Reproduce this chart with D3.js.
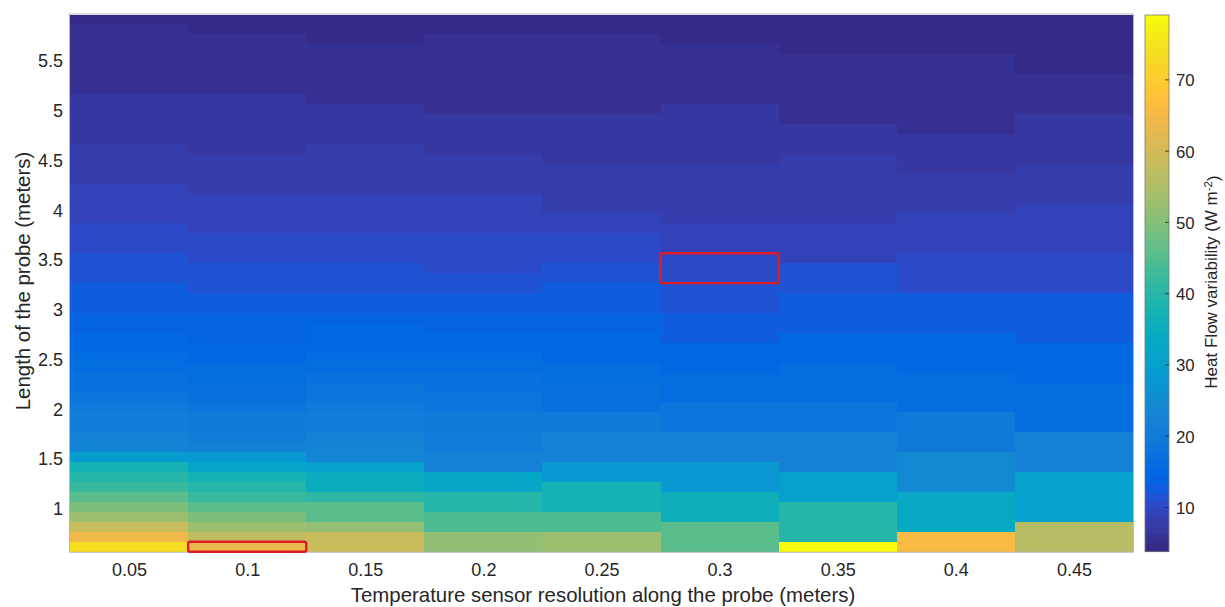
<!DOCTYPE html>
<html>
<head>
<meta charset="utf-8">
<script src="https://cdn.jsdelivr.net/npm/d3@7"></script>
<style>
  body { margin: 0; background: #fff; }
  svg { display: block; }
  text { font-family: "Liberation Sans", Arial, Helvetica, sans-serif; fill: #262626; }
</style>
</head>
<body>
<svg id="chart" width="1225" height="607"></svg>
<script>
// Sensor spacing along the probe (m) — one image column each
const resolutions = [0.05, 0.1, 0.15, 0.2, 0.25, 0.3, 0.35, 0.4, 0.45];

// Probe length (m) — one image row each
const probeLengths = [0.6, 0.7, 0.8, 0.9, 1.0, 1.1, 1.2, 1.3, 1.4, 1.5,
  1.6, 1.7, 1.8, 1.9, 2.0, 2.1, 2.2, 2.3, 2.4, 2.5,
  2.6, 2.7, 2.8, 2.9, 3.0, 3.1, 3.2, 3.3, 3.4, 3.5,
  3.6, 3.7, 3.8, 3.9, 4.0, 4.1, 4.2, 4.3, 4.4, 4.5,
  4.6, 4.7, 4.8, 4.9, 5.0, 5.1, 5.2, 5.3, 5.4, 5.5,
  5.6, 5.7, 5.8, 5.9];

// Heat flow variability (W m^-2) per probe length, one array per sensor spacing
const hf005 = [73.9, 64.2, 58.6, 52.5, 49.0, 45.6, 42.1, 39.6, 37.2, 29.0,
  23.3, 22.1, 21.1, 20.6, 19.8, 18.7, 17.6, 17.1, 16.4, 15.9,
  15.2, 14.6, 14.0, 13.5, 13.0, 12.6, 12.2, 11.8, 11.4, 11.0,
  10.6, 10.3, 9.9, 9.6, 9.3, 9.0, 8.7, 8.4, 8.1, 7.8,
  7.5, 7.2, 7.0, 6.8, 6.6, 6.3, 6.1, 5.9, 5.7, 5.6,
  5.4, 5.3, 5.1, 4.9];
const hf010 = [63.1, 57.2, 52.3, 48.8, 45.3, 41.8, 39.5, 37.1, 31.2, 27.8,
  21.9, 20.9, 20.0, 19.4, 18.6, 17.7, 17.0, 16.5, 15.9, 15.3,
  14.8, 14.2, 13.8, 13.4, 12.9, 12.4, 11.9, 11.5, 11.1, 10.7,
  10.4, 10.0, 9.6, 9.3, 9.0, 8.7, 8.4, 8.1, 7.8, 7.5,
  7.2, 7.0, 6.8, 6.6, 6.4, 6.2, 6.0, 5.8, 5.6, 5.4,
  5.2, 5.0, 4.8, 4.6];
const hf015 = [58.3, 58.3, 51.2, 45.4, 45.4, 40.6, 35.0, 35.0, 30.2, 23.0,
  23.0, 22.0, 20.8, 20.8, 19.5, 18.3, 18.3, 17.2, 16.1, 16.1,
  15.4, 14.6, 14.6, 13.9, 12.8, 12.8, 12.0, 11.4, 11.4, 10.8,
  10.3, 10.3, 9.6, 9.2, 9.2, 8.8, 8.3, 8.3, 7.9, 7.6,
  7.6, 7.2, 6.9, 6.9, 6.5, 6.1, 6.1, 5.8, 5.5, 5.5,
  5.2, 4.9, 4.9, 4.6];
const hf020 = [51.6, 51.6, 44.2, 44.2, 39.4, 39.4, 32.5, 32.5, 22.1, 22.1,
  20.9, 20.9, 19.6, 19.6, 18.4, 18.4, 17.2, 17.2, 16.0, 16.0,
  15.0, 15.0, 13.9, 13.9, 12.8, 12.8, 11.6, 11.6, 10.7, 10.7,
  10.0, 10.0, 9.4, 9.4, 8.8, 8.8, 8.2, 8.2, 7.6, 7.6,
  7.1, 7.1, 6.6, 6.6, 6.0, 6.0, 5.7, 5.7, 5.4, 5.4,
  5.1, 5.1, 4.8, 4.8];
const hf025 = [52.9, 52.9, 44.6, 44.6, 37.0, 37.0, 37.0, 28.0, 28.0, 22.3,
  22.3, 22.3, 19.8, 19.8, 17.6, 17.6, 17.6, 16.3, 16.3, 15.1,
  15.1, 15.1, 13.9, 13.9, 12.7, 12.7, 12.7, 11.6, 11.6, 10.4,
  10.4, 10.4, 9.5, 9.5, 8.4, 8.4, 8.4, 7.8, 7.8, 7.1,
  7.1, 7.1, 6.6, 6.6, 6.0, 6.0, 6.0, 5.6, 5.6, 5.2,
  5.2, 5.2, 4.7, 4.7];
const hf030 = [45.6, 45.6, 45.6, 36.2, 36.2, 36.2, 27.9, 27.9, 27.9, 22.0,
  22.0, 22.0, 18.5, 18.5, 18.5, 16.2, 16.2, 16.2, 14.9, 14.9,
  14.9, 13.0, 13.0, 13.0, 11.6, 11.6, 11.6, 10.4, 10.4, 10.4,
  9.2, 9.2, 9.2, 8.3, 8.3, 8.3, 7.6, 7.6, 7.6, 7.0,
  7.0, 7.0, 6.4, 6.4, 6.4, 5.8, 5.8, 5.8, 5.2, 5.2,
  5.2, 4.6, 4.6, 4.6];
const hf035 = [79.1, 39.8, 39.8, 39.8, 39.8, 30.0, 30.0, 30.0, 21.9, 21.9,
  21.9, 21.9, 18.4, 18.4, 18.4, 16.0, 16.0, 16.0, 16.0, 14.7,
  14.7, 14.7, 12.8, 12.8, 12.8, 12.8, 11.3, 11.3, 11.3, 9.3,
  9.3, 9.3, 9.3, 8.2, 8.2, 8.2, 7.5, 7.5, 7.5, 7.5,
  6.7, 6.7, 6.7, 5.9, 5.9, 5.9, 5.9, 5.3, 5.3, 5.3,
  4.7, 4.7, 4.7, 4.7];
const hf040 = [65.6, 65.6, 33.8, 33.8, 33.8, 33.8, 24.4, 24.4, 24.4, 24.4,
  19.7, 19.7, 19.7, 19.7, 16.2, 16.2, 16.2, 16.2, 14.9, 14.9,
  14.9, 14.9, 12.7, 12.7, 12.7, 12.7, 10.3, 10.3, 10.3, 10.3,
  9.1, 9.1, 9.1, 9.1, 7.9, 7.9, 7.9, 7.9, 6.9, 6.9,
  6.9, 6.9, 5.9, 5.9, 5.9, 5.9, 5.2, 5.2, 5.2, 5.2,
  4.5, 4.5, 4.5, 4.5];
const hf045 = [56.2, 56.2, 56.2, 30.3, 30.3, 30.3, 30.3, 30.3, 22.0, 22.0,
  22.0, 22.0, 16.2, 16.2, 16.2, 16.2, 16.2, 14.8, 14.8, 14.8,
  14.8, 12.5, 12.5, 12.5, 12.5, 12.5, 10.2, 10.2, 10.2, 10.2,
  9.0, 9.0, 9.0, 9.0, 9.0, 7.8, 7.8, 7.8, 7.8, 6.6,
  6.6, 6.6, 6.6, 6.6, 5.5, 5.5, 5.5, 5.5, 4.4, 4.4,
  4.4, 4.4, 4.4, 3.8];

const columns = [hf005, hf010, hf015, hf020, hf025, hf030, hf035, hf040, hf045];

// Axis ticks
const xTicks = resolutions;
const yTicks = [1, 1.5, 2, 2.5, 3, 3.5, 4, 4.5, 5, 5.5];
const cbTicks = [10, 20, 30, 40, 50, 60, 70];

// Outlined cells: sensor spacing and the first/last probe length of the block
const highlights = [
  { res: 0.1, from: 0.6, to: 0.6 },
  { res: 0.3, from: 3.3, to: 3.5 }
];

// 64-step parula colormap
const parula = [
  "#352a87","#363093","#3637a0","#353dad","#3243ba","#2c4ac7","#2053d4","#0f5cdd",
  "#0363e1","#0268e1","#046de0","#0871de","#0d75dc","#1079da","#127dd8","#1481d6",
  "#1485d4","#1389d3","#108ed2","#0c93d2","#0998d1","#079ccf","#06a0cd","#06a4ca",
  "#06a7c6","#07a9c2","#0aacbe","#0faeb9","#15b1b4","#1db3af","#25b5a9","#2eb7a4",
  "#38b99e","#42bb98","#4dbc92","#59bd8c","#65be86","#71bf80","#7cbf7b","#87bf77",
  "#92bf73","#9cbf6f","#a5be6b","#aebe67","#b7bd64","#c0bc60","#c8bc5d","#d1bb59",
  "#d9ba56","#e1b952","#e9b94e","#f1b94a","#f8bb44","#fdbe3d","#ffc337","#fec832",
  "#fcce2e","#fad32a","#f7d826","#f5de21","#f5e41d","#f5eb18","#f6f313","#f9fb0e"
];

// ---- layout ----
const plot = { left: 70, right: 1133, top: 14.5, bottom: 551.7 };
const cb = { left: 1145, right: 1169, top: 15, bottom: 551.7 };

const svg = d3.select("#chart");

const halfStep = 0.025;
const x = d3.scaleLinear()
  .domain([resolutions[0] - halfStep, resolutions[resolutions.length - 1] + halfStep])
  .range([plot.left, plot.right]);
const rowHalf = 0.05;
const y = d3.scaleLinear()
  .domain([probeLengths[0] - rowHalf, probeLengths[probeLengths.length - 1] + rowHalf])
  .range([plot.bottom, plot.top]);

// colour limits follow the data range, mapped onto the 64 colormap entries
const allValues = columns.flat();
const vmin = d3.min(allValues);
const vmax = d3.max(allValues);
const nColors = parula.length;
const colorOf = v => {
  const k = Math.min(nColors - 1, Math.max(0, Math.floor((v - vmin) / (vmax - vmin) * nColors)));
  return parula[k];
};

// ---- heatmap cells ----
const cells = [];
resolutions.forEach((r, ci) => {
  probeLengths.forEach((L, ri) => {
    cells.push({ r, L, v: columns[ci][ri] });
  });
});

svg.append("g")
  .attr("shape-rendering", "crispEdges")
  .selectAll("rect")
  .data(cells)
  .join("rect")
  .attr("x", d => x(d.r - halfStep))
  .attr("width", d => x(d.r + halfStep) - x(d.r - halfStep))
  .attr("y", d => y(d.L + rowHalf))
  .attr("height", d => y(d.L - rowHalf) - y(d.L + rowHalf))
  .attr("fill", d => colorOf(d.v));

// thin frame round the image
svg.append("rect")
  .attr("x", plot.left - 0.5)
  .attr("y", plot.top - 0.5)
  .attr("width", plot.right - plot.left + 1)
  .attr("height", plot.bottom - plot.top + 1)
  .attr("fill", "none")
  .attr("stroke", "#a8a8b0")
  .attr("stroke-width", 0.8);

// ---- highlighted blocks ----
svg.append("g")
  .selectAll("rect")
  .data(highlights)
  .join("rect")
  .attr("x", d => x(d.res - halfStep))
  .attr("width", d => x(d.res + halfStep) - x(d.res - halfStep))
  .attr("y", d => y(d.to + rowHalf))
  .attr("height", d => y(d.from - rowHalf) - y(d.to + rowHalf))
  .attr("rx", 2)
  .attr("fill", "none")
  .attr("stroke", "#e01b24")
  .attr("stroke-width", 2.4);

// ---- axes ----
const xAxis = svg.append("g")
  .attr("transform", `translate(0,${plot.bottom})`)
  .call(d3.axisBottom(x).tickValues(xTicks).tickSize(0).tickPadding(12).tickFormat(d => String(d)));
xAxis.select(".domain").remove();
xAxis.selectAll("text").attr("font-size", 18).style("font-family", "'Liberation Sans', Arial, sans-serif").attr("fill", "#262626");

const yAxis = svg.append("g")
  .attr("transform", `translate(${plot.left},0)`)
  .call(d3.axisLeft(y).tickValues(yTicks).tickSize(0).tickPadding(7).tickFormat(d => String(d)));
yAxis.select(".domain").remove();
yAxis.selectAll("text").attr("font-size", 18).attr("dy", "0.42em").style("font-family", "'Liberation Sans', Arial, sans-serif").attr("fill", "#262626");

svg.append("text")
  .attr("x", 603)
  .attr("y", 601.5)
  .attr("text-anchor", "middle")
  .attr("font-size", 20.4)
  .text("Temperature sensor resolution along the probe (meters)");

svg.append("text")
  .attr("transform", "translate(29.5,281) rotate(-90)")
  .attr("text-anchor", "middle")
  .attr("font-size", 20.4)
  .text("Length of the probe (meters)");

// ---- colorbar ----
const cbY = d3.scaleLinear().domain([vmin, vmax]).range([cb.bottom, cb.top]);
const step = (vmax - vmin) / nColors;
svg.append("g")
  .attr("shape-rendering", "crispEdges")
  .selectAll("rect")
  .data(parula)
  .join("rect")
  .attr("x", cb.left)
  .attr("width", cb.right - cb.left)
  .attr("y", (c, i) => cbY(vmin + (i + 1) * step))
  .attr("height", (c, i) => cbY(vmin + i * step) - cbY(vmin + (i + 1) * step))
  .attr("fill", c => c);

svg.append("rect")
  .attr("x", cb.left)
  .attr("y", cb.top)
  .attr("width", cb.right - cb.left)
  .attr("height", cb.bottom - cb.top)
  .attr("fill", "none")
  .attr("stroke", "#7a7a7a")
  .attr("stroke-width", 0.8);

const cbAxis = svg.append("g");
cbAxis.selectAll("line")
  .data(cbTicks)
  .join("line")
  .attr("x1", cb.right - 4)
  .attr("x2", cb.right)
  .attr("y1", d => cbY(d))
  .attr("y2", d => cbY(d))
  .attr("stroke", "#262626")
  .attr("stroke-width", 0.8);
cbAxis.selectAll("text")
  .data(cbTicks)
  .join("text")
  .attr("x", cb.right + 7)
  .attr("y", d => cbY(d))
  .attr("dy", "0.38em")
  .attr("font-size", 16.8)
  .text(d => d);

const cbLabel = svg.append("text")
  .attr("transform", "translate(1217,282) rotate(-90)")
  .attr("text-anchor", "middle")
  .attr("font-size", 17);
cbLabel.append("tspan").text("Heat Flow variability (W m");
cbLabel.append("tspan").attr("dy", "-0.45em").attr("font-size", 11.5).text("-2");
cbLabel.append("tspan").attr("dy", "0.45em").text(")");
</script>
</body>
</html>
